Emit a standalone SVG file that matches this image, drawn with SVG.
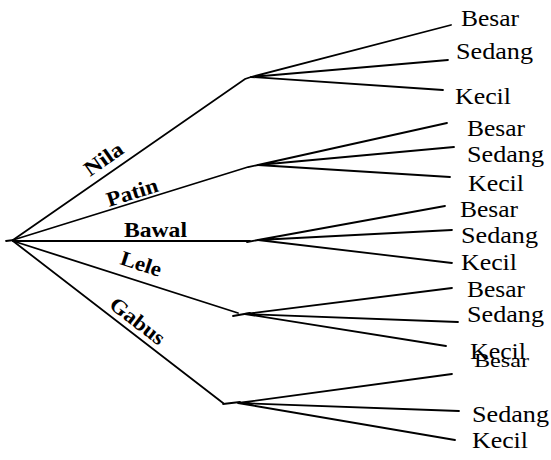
<svg xmlns="http://www.w3.org/2000/svg" width="551" height="460" viewBox="0 0 551 460">
<style>
.c{stroke:#000;stroke-width:1.8;fill:none;stroke-linecap:round}
text{font-family:'Liberation Serif','Times New Roman',Times,serif;fill:#000}
.leaf{font-size:24px}
.fish{font-size:21px;font-weight:bold}
</style>
<rect width="551" height="460" fill="#fff"/>
<g id="connectors" class="c">
<path d="M6,241 L14,240"/>
<path d="M13,240 L245,79 L251,77"/>
<path d="M251,77 L451,25 M251,77 L448,60 M251,77 L443,90"/>
<path d="M13,240 L248,167 L258,165"/>
<path d="M258,165 L447,123 M258,165 L454,147 M258,165 L450,177"/>
<path d="M13,241 L250,241 M247,242 L258,240"/>
<path d="M258,240 L445,206 M258,240 L452,230 M258,240 L452,263"/>
<path d="M13,241 L238,313 M233,316 L250,313"/>
<path d="M245,314 L452,288 M245,314 L458,322 M245,314 L446,346"/>
<path d="M13,241 L223,403 M223,404 L240,402"/>
<path d="M238,403 L452,374 M238,403 L459,411 M238,403 L455,440"/>
</g>
<g id="label-nila"><text class="fish" font-family="Liberation Serif, serif" transform="translate(90,177) rotate(-35)" textLength="43" lengthAdjust="spacingAndGlyphs">Nila</text></g>
<g id="label-patin"><text class="fish" font-family="Liberation Serif, serif" transform="translate(109,207) rotate(-17.5)" textLength="53" lengthAdjust="spacingAndGlyphs">Patin</text></g>
<g id="label-bawal"><text class="fish" font-family="Liberation Serif, serif" x="124" y="237" textLength="63" lengthAdjust="spacingAndGlyphs">Bawal</text></g>
<g id="label-lele"><text class="fish" font-family="Liberation Serif, serif" transform="translate(119,264) rotate(18)" textLength="42" lengthAdjust="spacingAndGlyphs">Lele</text></g>
<g id="label-gabus"><text class="fish" font-family="Liberation Serif, serif" transform="translate(108,307) rotate(37.6)" textLength="64" lengthAdjust="spacingAndGlyphs">Gabus</text></g>
<g id="nila-besar"><text class="leaf" font-family="Liberation Serif, serif" x="461" y="26" textLength="58" lengthAdjust="spacingAndGlyphs">Besar</text></g>
<g id="nila-sedang"><text class="leaf" font-family="Liberation Serif, serif" x="456" y="59" textLength="77" lengthAdjust="spacingAndGlyphs">Sedang</text></g>
<g id="nila-kecil"><text class="leaf" font-family="Liberation Serif, serif" x="455" y="104" textLength="56" lengthAdjust="spacingAndGlyphs">Kecil</text></g>
<g id="patin-besar"><text class="leaf" font-family="Liberation Serif, serif" x="467" y="136" textLength="58" lengthAdjust="spacingAndGlyphs">Besar</text></g>
<g id="patin-sedang"><text class="leaf" font-family="Liberation Serif, serif" x="467" y="162" textLength="77" lengthAdjust="spacingAndGlyphs">Sedang</text></g>
<g id="patin-kecil"><text class="leaf" font-family="Liberation Serif, serif" x="468" y="191" textLength="56" lengthAdjust="spacingAndGlyphs">Kecil</text></g>
<g id="bawal-besar"><text class="leaf" font-family="Liberation Serif, serif" x="460" y="217" textLength="58" lengthAdjust="spacingAndGlyphs">Besar</text></g>
<g id="bawal-sedang"><text class="leaf" font-family="Liberation Serif, serif" x="461" y="243" textLength="77" lengthAdjust="spacingAndGlyphs">Sedang</text></g>
<g id="bawal-kecil"><text class="leaf" font-family="Liberation Serif, serif" x="461" y="270" textLength="56" lengthAdjust="spacingAndGlyphs">Kecil</text></g>
<g id="lele-besar"><text class="leaf" font-family="Liberation Serif, serif" x="467" y="297" textLength="58" lengthAdjust="spacingAndGlyphs">Besar</text></g>
<g id="lele-sedang"><text class="leaf" font-family="Liberation Serif, serif" x="467" y="322" textLength="77" lengthAdjust="spacingAndGlyphs">Sedang</text></g>
<g id="lele-kecil"><text class="leaf" font-family="Liberation Serif, serif" x="470" y="359" textLength="56" lengthAdjust="spacingAndGlyphs">Kecil</text></g>
<g id="gabus-besar"><text class="leaf" font-family="Liberation Serif, serif" x="474" y="367" font-size="19" style="font-size:19px" textLength="55" lengthAdjust="spacingAndGlyphs">Besar</text></g>
<g id="gabus-sedang"><text class="leaf" font-family="Liberation Serif, serif" x="472" y="422" textLength="77" lengthAdjust="spacingAndGlyphs">Sedang</text></g>
<g id="gabus-kecil"><text class="leaf" font-family="Liberation Serif, serif" x="472" y="448" textLength="56" lengthAdjust="spacingAndGlyphs">Kecil</text></g>
</svg>
